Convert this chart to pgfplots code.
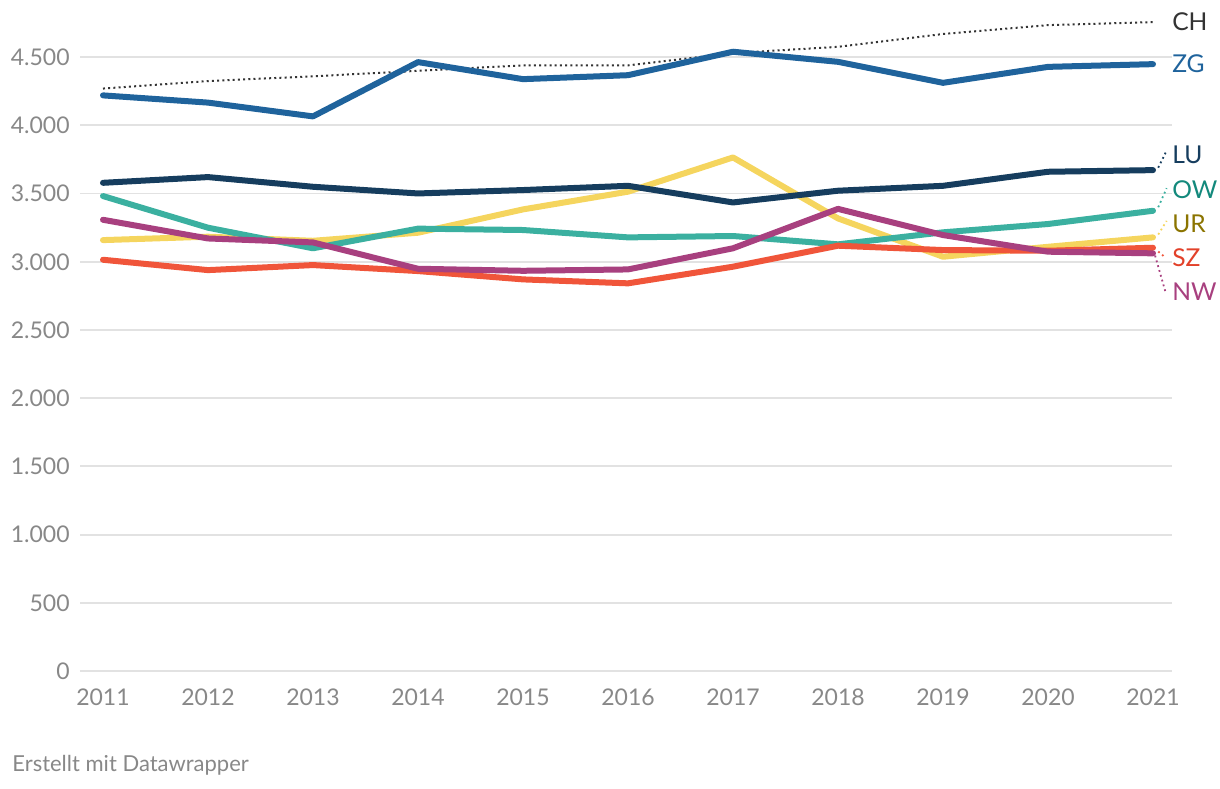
\documentclass[border=0pt]{standalone}
\usepackage{fontspec}
\setmainfont{Lato}
\usepackage{pgfplots}
\pgfplotsset{compat=1.18}
\usepackage{pgfplotstable}
\definecolor{cZG}{HTML}{1F639C}
\definecolor{cLU}{HTML}{163D5E}
\definecolor{cOW}{HTML}{3BB0A0}
\definecolor{lOW}{HTML}{13897C}
\definecolor{cUR}{HTML}{F5D55E}
\definecolor{lUR}{HTML}{8B7400}
\definecolor{cSZ}{HTML}{F0553A}
\definecolor{lSZ}{HTML}{E2412A}
\definecolor{cNW}{HTML}{A8407F}
\definecolor{tgrey}{HTML}{888888}
\definecolor{gridc}{HTML}{E2E2E2}
\definecolor{cCH}{HTML}{333333}

\pgfplotstableread{
year CH ZG LU OW UR SZ NW
2011 4270 4220 3579 3482 3159 3015 3308
2012 4325 4167 3621 3250 3184 2939 3171
2013 4360 4066 3550 3099 3154 2976 3142
2014 4400 4464 3501 3243 3213 2932 2949
2015 4440 4339 3526 3233 3384 2871 2934
2016 4440 4368 3557 3179 3514 2842 2944
2017 4530 4540 3435 3189 3765 2964 3099
2018 4576 4466 3521 3128 3318 3118 3388
2019 4670 4312 3557 3216 3037 3086 3196
2020 4735 4429 3660 3277 3110 3081 3074
2021 4757 4449 3672 3374 3179 3103 3062
}\datatable

\begin{document}
\begin{tikzpicture}
\begin{axis}[
  at={(0,0)}, anchor=south west,
  scale only axis,
  width=546pt, height=330.5pt,
  xmin=2010.781, xmax=2021.181,
  ymin=0, ymax=4846,
  clip=false,
  axis line style={draw=none},
  tick style={draw=none},
  major tick length=0pt,
  ymajorgrids,
  major grid style={draw=gridc, line width=0.9pt},
  xtick={2011,2012,2013,2014,2015,2016,2017,2018,2019,2020,2021},
  xticklabels={2011,2012,2013,2014,2015,2016,2017,2018,2019,2020,2021},
  ytick={0,500,1000,1500,2000,2500,3000,3500,4000,4500},
  extra y ticks={0},
  extra y tick labels={},
  extra y tick style={grid style={draw=black, line width=1pt}},
  /pgf/number format/assume math mode=true,
  /pgf/number format/1000 sep={.},
  ticklabel style={font=\fontsize{11.5}{13}\selectfont, text=tgrey},
  xticklabel style={anchor=center, yshift=-13pt},
  yticklabel style={anchor=east, inner sep=0pt, xshift=-5pt},
  every axis plot/.append style={line join=round, line cap=round},
]
\addplot[cCH, line width=1pt, dash pattern=on 1pt off 1.6pt, line cap=butt] table[x=year,y=CH] {\datatable};
\addplot[cUR, line width=3pt] table[x=year,y=UR] {\datatable};
\addplot[cLU, line width=3pt] table[x=year,y=LU] {\datatable};
\addplot[cZG, line width=3pt] table[x=year,y=ZG] {\datatable};
\addplot[cOW, line width=3pt] table[x=year,y=OW] {\datatable};
\addplot[cSZ, line width=3pt] table[x=year,y=SZ] {\datatable};
\addplot[cNW, line width=3pt] table[x=year,y=NW] {\datatable};

\draw[cLU, line width=0.9pt, dash pattern=on 0.9pt off 1.6pt] (axis cs:2021.05,3690) -- (axis cs:2021.13,3815);
\draw[cOW, line width=0.9pt, dash pattern=on 0.9pt off 1.6pt] (axis cs:2021.05,3400) -- (axis cs:2021.13,3540);
\draw[cUR, line width=0.9pt, dash pattern=on 0.9pt off 1.6pt] (axis cs:2021.05,3200) -- (axis cs:2021.13,3300);
\draw[cSZ, line width=0.9pt, dash pattern=on 0.9pt off 1.6pt] (axis cs:2021.05,3075) -- (axis cs:2021.12,3030);
\draw[cNW, line width=0.9pt, dash pattern=on 0.9pt off 1.6pt] (axis cs:2021.02,3045) -- (axis cs:2021.12,2775);

\tikzset{lbl/.style={anchor=west, inner sep=0pt, font=\fontsize{12.3}{14}\selectfont}}
\node[lbl, text=cCH] at (axis cs:2021.18,4758) {CH};
\node[lbl, text=cZG] at (axis cs:2021.18,4450) {ZG};
\node[lbl, text=cLU] at (axis cs:2021.18,3783) {LU};
\node[lbl, text=lOW] at (axis cs:2021.18,3526) {OW};
\node[lbl, text=lUR] at (axis cs:2021.18,3277) {UR};
\node[lbl, text=lSZ] at (axis cs:2021.18,3028) {SZ};
\node[lbl, text=cNW] at (axis cs:2021.18,2778) {NW};
\end{axis}
\node[anchor=west, inner sep=0pt, text=tgrey, font=\fontsize{11}{13}\selectfont] at (-34pt,-47pt) {Erstellt mit Datawrapper};
\pgfresetboundingbox
\path[use as bounding box] (-40pt,-58.5pt) rectangle (570pt,335.5pt);
\end{tikzpicture}
\end{document}
